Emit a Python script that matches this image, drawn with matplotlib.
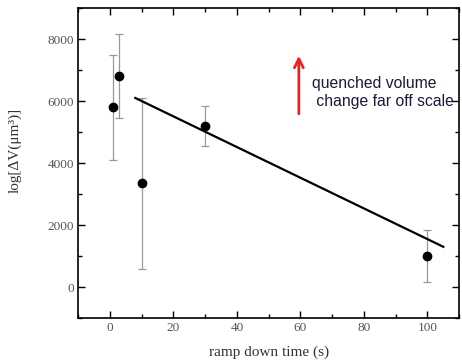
import numpy as np
import matplotlib.pyplot as plt
from matplotlib.ticker import MultipleLocator

# measured points
ramp_time = [1, 3, 10, 30, 100]
dV = [5800, 6800, 3350, 5200, 1000]
dV_err = [1700, 1350, 2750, 650, 830]

# linear fit line endpoints
fit_x = [8, 105]
fit_y = [6100, 1300]

# arrow + note
arrow_x = 59.5
arrow_y = [5500, 7550]
note = "quenched volume\n change far off scale"

plt.rcParams['font.family'] = ['Liberation Serif', 'DejaVu Serif']

fig = plt.figure(figsize=(4.62, 3.64), dpi=100)
ax = fig.add_axes([0.169, 0.126, 0.825, 0.852])

ax.errorbar(ramp_time, dV, yerr=dV_err, fmt='o', color='black', ms=6,
            ecolor='#999999', elinewidth=0.9, capsize=3, capthick=0.9)
ax.plot(fit_x, fit_y, '-', color='black', lw=1.6)

ax.annotate('', xy=(arrow_x, arrow_y[1]), xytext=(arrow_x, arrow_y[0]),
            arrowprops=dict(arrowstyle='->', color='#ee2222', lw=2,
                            mutation_scale=16))
ax.text(63.8, 6270, note, family=['Liberation Sans', 'DejaVu Sans'],
        fontsize=11.3, color='#1a1a3a', va='center', ha='left', linespacing=1.3)

ax.set_xlim(-10, 110)
ax.set_ylim(-1000, 9000)
ax.xaxis.set_major_locator(MultipleLocator(20))
ax.xaxis.set_minor_locator(MultipleLocator(10))
ax.yaxis.set_major_locator(MultipleLocator(2000))
ax.yaxis.set_minor_locator(MultipleLocator(1000))
ax.tick_params(which='both', direction='in', top=True, right=True,
               labelsize=9.5, labelcolor='#555555', width=1, pad=3)
ax.tick_params(which='major', length=5)
ax.tick_params(which='minor', length=3)
for s in ax.spines.values():
    s.set_linewidth(1.2)

ax.set_xlabel('ramp down time (s)', fontsize=11, color='#333333', labelpad=8)
ax.set_ylabel('log[ΔV(μm³)]', fontsize=11, color='#333333')
ax.yaxis.set_label_coords(-0.148, 0.54)

fig.savefig('out.png', dpi=100)
